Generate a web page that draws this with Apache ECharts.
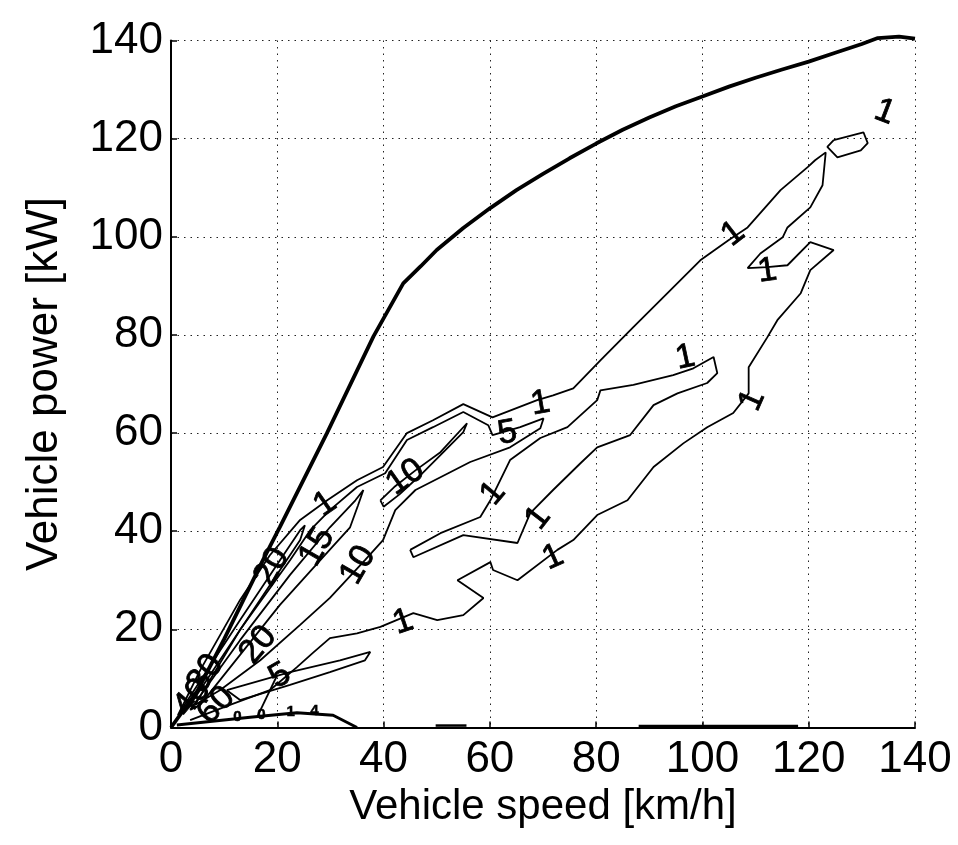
<!DOCTYPE html>
<html><head><meta charset="utf-8">
<script src="https://cdn.jsdelivr.net/npm/echarts@6/dist/echarts.min.js"></script>
<style>html,body{margin:0;padding:0;background:#fff}#c{width:958px;height:845px}</style>
</head><body><div id="c"></div>
<script>
// ---- data (vehicle speed km/h, vehicle power kW) ----
const xTicks = [0, 20, 40, 60, 80, 100, 120, 140];
const yTicks = [0, 20, 40, 60, 80, 100, 120, 140];

const envelope = [[0,0],[5,7.5],[10,18],[17.3,34.1],[20.5,40.9],[29.3,59.9],[38.1,79.7],[43.7,90.5],[47,94],[50,97.3],[55,101.8],[60,105.8],[65,109.5],[70,112.8],[75,116],[80,119],[85,121.8],[90,124.3],[95,126.6],[100,128.6],[105,130.6],[110,132.4],[115,134.1],[120,135.7],[125,137.5],[130,139.3],[133,140.5],[137,140.8],[140,140.4]];

const contourOuter = [[1.3,2.5],[5.5,11.7],[13.0,26.0],[18.6,35.1],[24.3,42.3],[29.4,46.3],[35.0,50.4],[39.9,53.1],[44.4,60.0],[49.3,62.6],[55.0,65.9],[60.5,63.2],[68.9,66.7],[71.9,67.7],[75.7,69.1],[80.8,74.8],[87.0,81.6],[92.1,87.1],[99.6,95.2],[104.9,99.3],[108.5,101.9],[114.7,109.5],[119.8,114.2],[121.2,115.6],[123.2,117.2],[122.6,110.5],[120.3,106.0],[116.0,101.9],[115.1,99.9],[110.9,96.6],[108.5,93.6],[112.2,93.8],[116.0,94.2],[120.3,98.9],[124.7,97.3],[120.3,93.2],[118.5,88.5],[114.1,83.0],[112.2,79.5],[108.7,73.4],[108.7,68.1],[105.8,64.1],[100.9,61.2],[96.4,57.9],[90.8,53.1],[85.9,46.3],[80.2,43.3],[75.7,38.2],[72.7,36.2],[65.2,30.0],[60.6,32.1],[60.1,33.7],[53.9,30.0],[58.8,26.4],[55.0,22.9],[50.1,21.9],[45.6,23.3],[39.4,20.5],[35.0,19.2],[29.9,18.2],[26.7,15.2],[23.7,12.3],[18.6,7.6],[11.1,4.6],[3.6,1.5]];

const topLoop = [[124.7,119.7],[130.3,121.3],[131.1,119.1],[129.8,117.6],[125.4,116.2],[123.5,118.3],[124.7,119.7]];

const fingerHole = [[45,36.2],[50.7,39.6],[58.2,42.9],[60.1,46.3],[63.8,54.5],[69.5,59],[74.6,61.2],[80.2,66.7],[80.8,68.7],[87,69.8],[94.5,71.8],[98.3,73.2],[102.1,75.5],[102.8,72.2],[100.9,70.2],[95.3,68.1],[90.8,65.7],[86.4,59.6],[80.2,57.1],[77,53.8],[71.9,48.4],[67.6,43.7],[65.2,37.6],[55,39.2],[45.6,34.7],[45,36.2]];

const contour5 = [[4.5,4.6],[13,19.9],[22.4,34.1],[26.2,40.2],[29.9,44.3],[35,49],[40.3,51.8],[44.4,58.6],[49.3,61.2],[55,64.3],[59.7,61.6],[60.5,59.6],[65.7,61.2],[70.1,63],[69.5,61],[63.8,57.1],[56.3,54.1],[50.7,51],[46,48.4],[42.2,44.3],[39.9,38.2],[36.5,34.1],[29.9,26.4],[24.3,20.9],[16.8,13.7],[9.2,7.6],[4.5,4.6]];

const contour10a = [[3.6,3.6],[13,17.8],[22.4,31.1],[29.9,40.8],[34.7,46.3],[36.2,48.4],[35.2,45.3],[33.7,40.8],[28.1,34.1],[20.5,25.0],[13,14.8],[5.5,4.6],[3.6,3.6]];

const contour10b = [[39.4,46.3],[42,49],[46,52.4],[50.7,56.1],[55.7,62],[55,60.2],[50.7,55.5],[46.9,51.4],[43,47.5],[40,45],[39.4,46.3]];

const contour20 = [[1.7,3.2],[13,21.9],[20.5,34.1],[24.3,40.2],[25.2,41.2],[24.3,38.2],[18.6,29.0],[11.1,16.8],[3.6,4.6],[1.7,3.2]];

const petal5 = [[10.5,7.6],[22.4,11.3],[31.8,13.7],[37.5,15.4],[36.5,13.7],[29.9,11.3],[22.4,8.7],[13,5.6],[10.5,7.6]];

const stem5 = [[16.2,2.1],[20,10.7]];
const bottomLine = [[1.1,0.5],[14.9,2.1],[23.7,3.0],[30.5,2.5],[35,0]];
const bottomStrip1 = [[49.8,0.4],[55.6,0.4]];
const bottomStrip2 = [[88,0.3],[118,0.3]];

// contour labels: [speed, power, text]
const contourLabels = [
  [69.5,66,'1'],[105.8,100.6,'1'],[112.2,93,'1'],[109.4,66.7,'1'],[60.6,47.7,'1'],
  [69.1,42.7,'1'],[71.9,34.7,'1'],[43.7,21.5,'1'],[134.3,125.4,'1'],[96.8,75.4,'1'],
  [29,45.5,'1'],[63.3,60,'5'],[44.1,51,'10'],[35.2,33.1,'10'],[19,32.7,'20'],
  [27.5,36.8,'15'],[16.4,16.8,'20'],[20.5,10.5,'5'],[6.5,11,'30'],[4,6,'40'],[8.5,4.5,'60']
];
const contourLabelAngles = [10,38,8,66,50,52,24,19,-21,12,35,10,35,60,60,60,50,30,55,50,45];
const smallLabels = [[12.5,2.2,'0'],[17,2.6,'0'],[22.5,3.2,'1'],[27,3.4,'4']];

// ---- chart ----
const FONT = "'Liberation Sans', Arial, Helvetica, sans-serif";
const chart = echarts.init(document.getElementById('c'), null, {renderer:'canvas'});
function lineSeries(data, width) {
  return {type:'line', data:data, showSymbol:false, symbol:'none', smooth:false, silent:true,
    clip:false, lineStyle:{color:'#000', width:width||1.8, opacity:1}, z:3, animation:false};
}
const series = [
  lineSeries(envelope, 3.8),
  lineSeries(contourOuter), lineSeries(topLoop), lineSeries(fingerHole),
  lineSeries(contour5), lineSeries(contour10a), lineSeries(contour10b), lineSeries(contour20),
  lineSeries(petal5), lineSeries(stem5), lineSeries(bottomLine, 3),
  lineSeries(bottomStrip1, 2.5), lineSeries(bottomStrip2, 2.5),
  {type:'scatter', symbolSize:0, silent:true, z:5, animation:false,
    itemStyle:{opacity:1, color:'#000'},
    data: contourLabels.map((d,i)=>({value:[d[0],d[1]], name:d[2],
      label:{rotate:contourLabelAngles[i]}})),
    label:{show:true, position:'inside', formatter:p=>p.name, color:'#000', opacity:1,
      textBorderColor:'#000', textBorderWidth:0.8,
      fontFamily:FONT, fontSize:34}},
  {type:'scatter', symbolSize:0, silent:true, z:5, animation:false,
    itemStyle:{opacity:1, color:'#000'},
    data: smallLabels.map(d=>({value:[d[0],d[1]], name:d[2]})),
    label:{show:true, position:'inside', formatter:p=>p.name, color:'#000', opacity:1,
      textBorderColor:'#000', textBorderWidth:0.5,
      fontFamily:FONT, fontSize:15, fontWeight:'bold'}}
];
const gridLine = {show:true, lineStyle:{color:'#222', width:1, type:[1.5,5]}};
chart.setOption({
  animation:false,
  backgroundColor:'#fff',
  grid:{left:171, right:43, top:40.5, bottom:117.5, containLabel:false},
  xAxis:{type:'value', min:0, max:140, interval:20,
    name:'Vehicle speed [km/h]', nameLocation:'middle', nameGap:56,
    nameTextStyle:{fontFamily:FONT, fontSize:42, color:'#000'},
    axisLine:{show:true, onZero:false, lineStyle:{color:'#000', width:2}},
    axisTick:{show:true, inside:true, length:6, lineStyle:{color:'#000', width:1.5}},
    axisLabel:{fontFamily:FONT, fontSize:44, color:'#000', margin:10,
      formatter:v=>xTicks.includes(v)?String(v):''},
    splitLine:gridLine},
  yAxis:{type:'value', min:0, max:140, interval:20,
    name:'Vehicle power [kW]', nameLocation:'middle', nameGap:104, nameRotate:90,
    nameTextStyle:{fontFamily:FONT, fontSize:44, color:'#000'},
    axisLine:{show:true, onZero:false, lineStyle:{color:'#000', width:2}},
    axisTick:{show:true, inside:true, length:6, lineStyle:{color:'#000', width:1.5}},
    axisLabel:{fontFamily:FONT, fontSize:44, color:'#000', margin:8,
      formatter:v=>yTicks.includes(v)?String(v):''},
    splitLine:gridLine},
  series:series
});
</script></body></html>
